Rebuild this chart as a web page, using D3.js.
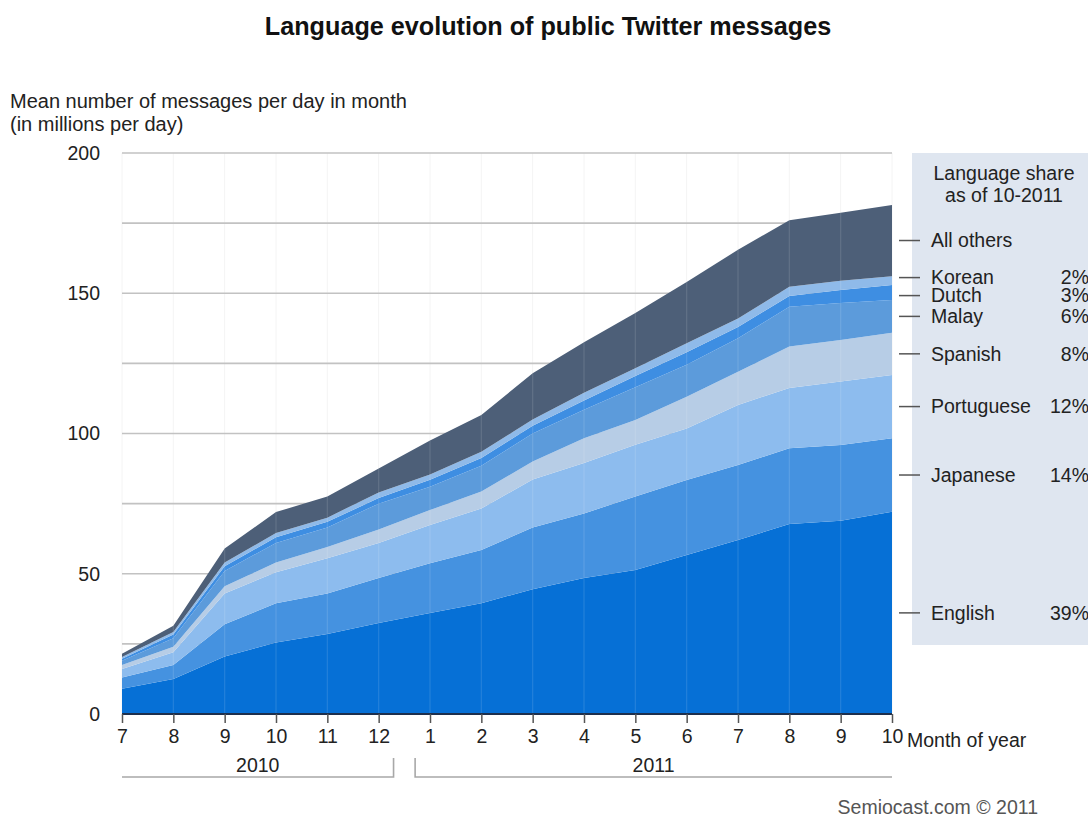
<!DOCTYPE html>
<html>
<head>
<meta charset="utf-8">
<script src="https://cdn.jsdelivr.net/npm/d3@7"></script>
<style>
  html, body { margin: 0; padding: 0; background: #ffffff; }
  svg { display: block; font-family: "Liberation Sans", Arial, Helvetica, sans-serif; }
</style>
</head>
<body>
<svg id="chart" width="1088" height="820"></svg>
<script>
// ---------- DATA ----------
const monthKeys = ["2010-07","2010-08","2010-09","2010-10","2010-11","2010-12",
                   "2011-01","2011-02","2011-03","2011-04","2011-05","2011-06",
                   "2011-07","2011-08","2011-09","2011-10"];
const monthLabels = ["7","8","9","10","11","12","1","2","3","4","5","6","7","8","9","10"];

// mean messages per day (millions) per language
const english    = [9, 12.5, 20.5, 25.5, 28.5, 32.4, 36, 39.5, 44.5, 48.5, 51.3, 56.7, 62, 67.7, 68.9, 72.1];
const japanese   = [4, 5, 11.5, 14, 14.5, 16.1, 17.7, 19, 22, 23, 26.2, 26.7, 26.8, 27, 27, 26.2];
const portuguese = [3, 4.5, 11, 11, 12.5, 12.5, 13.7, 14.8, 17.1, 18, 18.5, 18.4, 21.4, 21.5, 22.6, 22.6];
const spanish    = [1.5, 2, 2.5, 3.5, 4, 4.8, 5.3, 6, 6.4, 8.8, 8.8, 11.3, 11.8, 14.8, 14.8, 15];
const malay      = [1.5, 3, 5.5, 7, 7, 9.2, 8.3, 9.2, 10, 10.2, 11.7, 11.4, 12, 14.2, 13.2, 11.7];
const dutch      = [0.7, 1.3, 1.7, 2, 2, 2, 2.5, 2.8, 2.8, 3.3, 4, 4.5, 4, 3.8, 4.7, 5.3];
const korean     = [0.6, 0.9, 1.3, 1.5, 1.5, 2, 1.9, 2.2, 2.2, 2.7, 2.8, 3.2, 3, 3.3, 3.3, 3.2];
const allOthers  = [1.2, 2.3, 5, 7.5, 7.5, 8.5, 12.1, 13.1, 16.5, 18, 19.7, 21.8, 24.5, 23.7, 24.2, 25.4];

const seriesNames = ["English","Japanese","Portuguese","Spanish","Malay","Dutch","Korean","All others"];
const seriesValues = [english, japanese, portuguese, spanish, malay, dutch, korean, allOthers];
const shareLabels = ["39%","14%","12%","8%","6%","3%","2%",""];
const seriesColors = ["#0670d6","#4592e0","#8dbcee","#b7cde6","#5c9bdb","#3e8ee2","#8fbae9","#4d5f78"];

const yTicks = [0, 50, 100, 150, 200];
const yGrid = [25, 50, 75, 100, 125, 150, 175, 200];
const years = [
  {label: "2010", from: "2010-07", to: "2010-12"},
  {label: "2011", from: "2011-01", to: "2011-10"}
];

// ---------- LAYOUT ----------
const FS = 19.5;
const svg = d3.select("#chart");
const plot = {left: 122, right: 892, top: 153, bottom: 714};

const x = d3.scalePoint().domain(monthKeys).range([plot.left, plot.right]);
const y = d3.scaleLinear().domain([0, 200]).range([plot.bottom, plot.top]);

const table = monthKeys.map((k, i) => {
  const row = {month: k};
  seriesNames.forEach((n, j) => row[n] = seriesValues[j][i]);
  return row;
});
const stacked = d3.stack().keys(seriesNames)(table);

// Title
svg.append("text")
  .attr("x", 548).attr("y", 35)
  .attr("text-anchor", "middle")
  .attr("font-size", 25.2).attr("font-weight", "bold").attr("fill", "#111")
  .text("Language evolution of public Twitter messages");

// Y axis title
svg.append("text").attr("x", 10).attr("y", 108)
  .attr("font-size", 20).attr("fill", "#222")
  .text("Mean number of messages per day in month");
svg.append("text").attr("x", 10).attr("y", 131)
  .attr("font-size", 20).attr("fill", "#222")
  .text("(in millions per day)");

// faint vertical month stripes in background
svg.append("g").selectAll("line").data(monthKeys).join("line")
  .attr("x1", d => x(d)).attr("x2", d => x(d))
  .attr("y1", plot.top).attr("y2", plot.bottom)
  .attr("stroke", "#f4f4f4").attr("stroke-width", 1);

// Gridlines
svg.append("g").selectAll("line").data(yGrid).join("line")
  .attr("x1", plot.left).attr("x2", plot.right)
  .attr("y1", d => y(d)).attr("y2", d => y(d))
  .attr("stroke", "#c2c2c2").attr("stroke-width", 1.6);

// Y tick labels
svg.append("g").selectAll("text").data(yTicks).join("text")
  .attr("x", 100).attr("y", d => y(d))
  .attr("dy", "0.35em")
  .attr("text-anchor", "end")
  .attr("font-size", FS).attr("fill", "#222")
  .text(d => d);

// Stacked areas
const area = d3.area()
  .x(d => x(d.data.month))
  .y0(d => y(d[0]))
  .y1(d => y(d[1]));

svg.append("g").selectAll("path").data(stacked).join("path")
  .attr("d", area)
  .attr("fill", (d, i) => seriesColors[i]);

// faint vertical lines over the areas
const totals = table.map(r => d3.sum(seriesNames, n => r[n]));
svg.append("g").selectAll("line").data(monthKeys.slice(1, -1)).join("line")
  .attr("x1", d => x(d)).attr("x2", d => x(d))
  .attr("y1", (d, i) => y(totals[i + 1])).attr("y2", plot.bottom)
  .attr("stroke", "#ffffff").attr("stroke-opacity", 0.12).attr("stroke-width", 1.2);

// X axis baseline & ticks
svg.append("line")
  .attr("x1", plot.left).attr("x2", plot.right)
  .attr("y1", plot.bottom).attr("y2", plot.bottom)
  .attr("stroke", "#1d2f4d").attr("stroke-width", 2);

const xAxis = d3.axisBottom(x).tickSize(9).tickPadding(6)
  .tickFormat((d, i) => monthLabels[i]);
const gx = svg.append("g").attr("transform", `translate(0,${plot.bottom})`).call(xAxis);
gx.select(".domain").remove();
gx.selectAll(".tick line").attr("stroke", "#555").attr("stroke-width", 1.5);
gx.selectAll(".tick text").attr("font-size", FS).attr("fill", "#222")
  .attr("font-family", "Liberation Sans, Arial, sans-serif");

svg.append("text").attr("x", 907).attr("y", 747)
  .attr("font-size", FS).attr("fill", "#222")
  .text("Month of year");

// Year brackets
const step = x.step();
years.forEach((yr, i) => {
  const x0 = i === 0 ? x(yr.from) : x(yr.from) - step * 0.29;
  const x1 = i === 0 ? x(yr.to) + step * 0.29 : x(yr.to);
  const yb = 777, yt = 758;
  let pts;
  if (i === 0) pts = [[x0, yb], [x1, yb], [x1, yt]];
  else pts = [[x0, yt], [x0, yb], [x1, yb]];
  svg.append("path")
    .attr("d", d3.line()(pts))
    .attr("fill", "none").attr("stroke", "#a8a8a8").attr("stroke-width", 1.6);
  svg.append("text")
    .attr("x", (x0 + x1) / 2).attr("y", 772)
    .attr("text-anchor", "middle")
    .attr("font-size", FS).attr("fill", "#222")
    .text(yr.label);
});

// Legend box
svg.append("rect")
  .attr("x", 912).attr("y", 153).attr("width", 180).attr("height", 492)
  .attr("fill", "#dfe6f0");
svg.append("text").attr("x", 1004).attr("y", 180)
  .attr("text-anchor", "middle").attr("font-size", FS).attr("fill", "#222")
  .text("Language share");
svg.append("text").attr("x", 1004).attr("y", 202)
  .attr("text-anchor", "middle").attr("font-size", FS).attr("fill", "#222")
  .text("as of 10-2011");

// Legend entries at band middles of the last month (with spacing relaxation)
const lastIdx = monthKeys.length - 1;
let entries = stacked.map((s, i) => ({
  name: seriesNames[i],
  share: shareLabels[i],
  pos: y((s[lastIdx][0] + s[lastIdx][1]) / 2)
}));
entries.sort((a, b) => a.pos - b.pos);
const minGap = 18;
for (let iter = 0; iter < 50; iter++) {
  for (let k = 1; k < entries.length; k++) {
    const gap = entries[k].pos - entries[k - 1].pos;
    if (gap < minGap) {
      const shift = (minGap - gap) / 2;
      entries[k - 1].pos -= shift;
      entries[k].pos += shift;
    }
  }
}
const lg = svg.append("g");
lg.selectAll("line").data(entries).join("line")
  .attr("x1", 899).attr("x2", 920)
  .attr("y1", d => d.pos).attr("y2", d => d.pos)
  .attr("stroke", "#555").attr("stroke-width", 1.5);
lg.selectAll("text.name").data(entries).join("text").attr("class", "name")
  .attr("x", 931).attr("y", d => d.pos).attr("dy", "0.35em")
  .attr("font-size", FS).attr("fill", "#222")
  .text(d => d.name);
lg.selectAll("text.share").data(entries).join("text").attr("class", "share")
  .attr("x", 1089).attr("y", d => d.pos).attr("dy", "0.35em")
  .attr("text-anchor", "end")
  .attr("font-size", FS).attr("fill", "#222")
  .text(d => d.share);

// Footer
svg.append("text").attr("x", 1038).attr("y", 814)
  .attr("text-anchor", "end").attr("font-size", FS).attr("fill", "#555")
  .text("Semiocast.com \u00a9 2011");
</script>
</body>
</html>
